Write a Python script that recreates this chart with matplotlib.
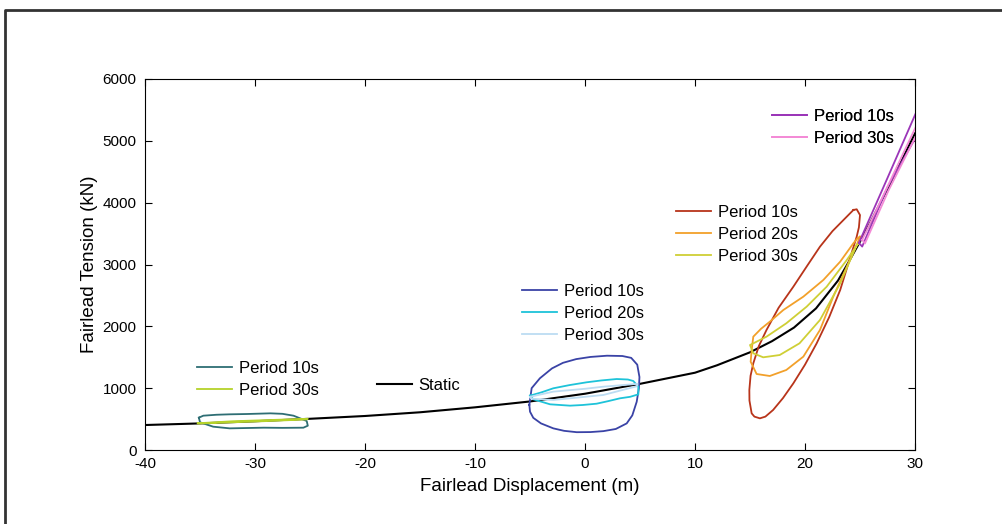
import matplotlib.pyplot as plt
from matplotlib.lines import Line2D

plt.rcParams.update({
    'font.family': ['Liberation Sans', 'DejaVu Sans'],
    'font.size': 11,
    'axes.unicode_minus': False,
    'xtick.direction': 'in',
    'ytick.direction': 'in',
    'xtick.top': True,
    'ytick.right': True,
})

# ---------------- data ----------------
static_x = [-40, -35, -30, -25, -20, -15, -10, -5, 0, 5, 10, 12, 15, 17, 19, 21, 23, 24, 25, 26, 28, 30]
static_y = [404, 430, 465, 505, 550, 610, 690, 785, 910, 1070, 1250, 1370, 1580, 1760, 1980, 2290, 2740, 3050, 3370, 3700, 4400, 5120]

# loop around -30 m
a10_x = [-35.1, -34.7, -33.5, -32.3, -30.75, -28.6, -27.5, -26.5, -25.3, -25.2, -25.6, -27.5, -29.2, -32.3, -33.8, -35.0]
a10_y = [523, 555, 570, 577, 582, 593, 585, 555, 469, 393, 361, 358, 361, 350, 377, 448]
a30_x = [-35.2, -32.0, -28.6, -25.2, -25.3, -28.6, -32.0, -35.1]
a30_y = [432, 465, 485, 505, 495, 470, 448, 428]

# loop around 0 m
b10_x = [-5.06, -4.85, -4.1, -3.0, -2.0, -0.8, 0.5, 2.0, 3.4, 4.2, 4.75, 4.95, 4.9, 4.7, 4.3, 3.79, 2.8, 1.67, 0.5, -0.75, -1.9, -2.88, -4.0, -4.7, -5.0]
b10_y = [730, 1000, 1160, 1320, 1410, 1470, 1505, 1525, 1520, 1490, 1380, 1180, 1000, 780, 560, 430, 340, 305, 290, 288, 310, 350, 430, 520, 620]
b20_x = [-5.0, -4.0, -2.88, -1.4, 0.15, 1.5, 2.88, 3.9, 4.39, 4.85, 4.85, 4.1, 3.18, 2.1, 1.06, -0.2, -1.36, -3.18, -4.7]
b20_y = [879, 930, 998, 1050, 1095, 1125, 1148, 1140, 1116, 1024, 900, 860, 836, 790, 749, 728, 717, 739, 820]
b30_x = [-5.0, -2.88, 0.0, 1.67, 4.8, 4.7, 1.67, 0.0, -2.88, -4.9]
b30_y = [860, 944, 990, 1024, 1070, 1030, 890, 860, 809, 830]

# loop around 20 m
c10_x = [24.4, 24.7, 25.0, 24.9, 24.7, 24.0, 23.2, 22.2, 21.06, 20.0, 18.94, 18.0, 17.1, 16.4, 15.9, 15.4, 15.15, 14.95, 14.94, 15.05, 15.3, 15.8, 16.5, 17.6, 18.94, 20.2, 21.36, 22.5, 23.5]
c10_y = [3882, 3893, 3800, 3600, 3450, 3050, 2588, 2150, 1725, 1380, 1078, 840, 647, 540, 512, 540, 593, 800, 970, 1200, 1402, 1680, 1941, 2300, 2641, 2980, 3288, 3540, 3720]
c20_x = [25.0, 24.7, 23.8, 22.57, 21.36, 19.85, 18.3, 16.8, 15.6, 15.06, 15.15, 15.3, 16.0, 16.8, 18.03, 19.85, 21.67, 23.2, 24.4, 24.8]
c20_y = [3450, 3316, 2965, 2480, 1941, 1510, 1294, 1197, 1229, 1428, 1617, 1833, 1960, 2075, 2264, 2480, 2750, 3046, 3343, 3430]
c30_x = [24.85, 23.8, 21.97, 20.15, 18.3, 16.5, 15.0, 15.3, 16.2, 17.7, 19.5, 21.36, 23.2, 24.7]
c30_y = [3343, 3073, 2641, 2318, 2049, 1833, 1698, 1564, 1499, 1536, 1725, 2102, 2695, 3316]

# loop near 30 m (runs past the axis edge)
d10_x = [24.9, 25.0, 27.5, 30.4, 30.4, 27.5, 25.2]
d10_y = [3350, 3390, 4400, 5580, 5160, 4250, 3290]
d30_x = [25.2, 27.5, 30.4, 30.4, 27.6, 25.45]
d30_y = [3400, 4260, 5350, 5190, 4200, 3340]

loops = {
    'a10': (a10_x, a10_y, '#2e6e74'), 'a30': (a30_x, a30_y, '#b5d22a'),
    'b10': (b10_x, b10_y, '#3a43a6'), 'b20': (b20_x, b20_y, '#1ec3d9'), 'b30': (b30_x, b30_y, '#bcdcf2'),
    'c10': (c10_x, c10_y, '#b8341a'), 'c20': (c20_x, c20_y, '#f2a02a'), 'c30': (c30_x, c30_y, '#cfcf35'),
    'd10': (d10_x, d10_y, '#9b35b8'), 'd30': (d30_x, d30_y, '#f38ad6'),
}

# ---------------- plot ----------------
fig = plt.figure(figsize=(10.03, 5.24), dpi=100)
ax = fig.add_axes([145 / 1003, 1 - 450 / 524, 770 / 1003, 371 / 524])

h_static, = ax.plot(static_x, static_y, color='black', lw=1.5, zorder=2)

handles = {}
for key, (xs, ys, col) in loops.items():
    h, = ax.plot(list(xs) + [xs[0]], list(ys) + [ys[0]], color=col, lw=1.3, zorder=3)
    handles[key] = h

ax.set_xlim(-40, 30)
ax.set_ylim(0, 6000)
ax.set_xticks(range(-40, 31, 10))
ax.set_yticks(range(0, 6001, 1000))
ax.tick_params(length=5, width=0.8, labelsize=11)
ax.tick_params(axis='y', pad=6)
ax.tick_params(axis='x', pad=5)
ax.set_xlabel('Fairlead Displacement (m)', fontsize=13.5, labelpad=5)
ax.set_ylabel('Fairlead Tension (kN)', fontsize=13.5, labelpad=3)

leg_kw = dict(loc='upper left', frameon=False, fontsize=12, borderpad=0, borderaxespad=0,
              handlelength=2.1, handletextpad=0.4, labelspacing=0.42)


def add_legend(hs, labels, x, y):
    lg = ax.legend(hs, labels, bbox_to_anchor=(x, y), **leg_kw)
    ax.add_artist(lg)


add_legend([handles['a10'], handles['a30']], ['Period 10s', 'Period 30s'], 0.0675, 0.240)
add_legend([h_static], ['Static'], 0.301, 0.194)
add_legend([handles['b10'], handles['b20'], handles['b30']],
           ['Period 10s', 'Period 20s', 'Period 30s'], 0.4896, 0.4475)
add_legend([handles['c10'], handles['c20'], handles['c30']],
           ['Period 10s', 'Period 20s', 'Period 30s'], 0.6896, 0.6605)
add_legend([handles['d10'], handles['d30']], ['Period 10s', 'Period 30s'], 0.8143, 0.9190)

# outer frame of the original figure (top and left edges visible)
fig.add_artist(Line2D([4.5 / 1003, 4.5 / 1003, 1.0], [0.0, 1 - 10 / 524, 1 - 10 / 524],
                      transform=fig.transFigure, color='#333333', lw=2))

fig.savefig('out.png', dpi=100)
